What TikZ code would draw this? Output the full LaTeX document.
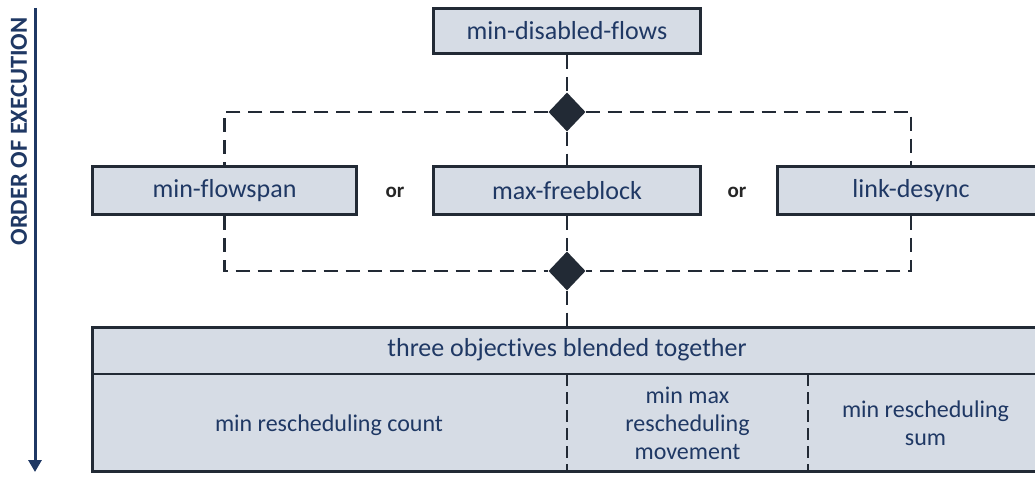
\documentclass[tikz,border=0pt]{standalone}
\usepackage{fontspec}
\setmainfont{Carlito}[Ligatures=NoCommon]
\usetikzlibrary{arrows.meta,shapes.geometric}
\definecolor{boxfill}{HTML}{D6DCE5}
\definecolor{edge}{HTML}{222A35}
\definecolor{ink}{HTML}{1F3864}
\definecolor{orgray}{HTML}{262626}
\begin{document}
\begin{tikzpicture}[x=1pt,y=-1pt,
  stagebox/.style={draw=edge, line width=3pt, fill=boxfill, text=ink, inner sep=0pt,
    minimum height=48pt, font=\fontsize{26}{30}\selectfont},
  flow/.style={draw=edge, line width=2.5pt, dash pattern=on 14pt off 8pt},
  gate/.style={diamond, fill=edge, draw=none, inner sep=0pt,
    minimum width=37pt, minimum height=39pt},
  orlabel/.style={text=orgray, font=\fontsize{21}{24}\selectfont\bfseries},
  celltext/.style={text=ink, align=center, inner sep=0pt,
    font=\fontsize{24}{28}\selectfont},
  celldiv/.style={draw=edge, line width=2.5pt, dash pattern=on 12pt off 6pt}]

\clip (0,0) rectangle (1035,478);

% execution-order arrow with its caption
\coordinate (arrowtop) at (35,8);
\coordinate (arrowend) at (35,472);
\draw[ink, line width=3pt, -{Triangle[width=13pt,length=12pt]}] (arrowtop) -- (arrowend);
\node[rotate=90, text=ink, inner sep=0pt, font=\fontsize{24.5}{28}\selectfont\bfseries]
  (ordercap) at (19,131.5) {ORDER OF EXECUTION};

% first stage
\node[stagebox, minimum width=267pt, minimum height=45pt] (disabled) at (567,31) {min-disabled-flows};

% alternative second stages
\node[stagebox, minimum width=264pt] (flowspan)  at (224.5,190.5) {min-flowspan};
\node[stagebox, minimum width=267pt] (freeblock) at (567,190.5)   {max-freeblock};
\node[stagebox, minimum width=267pt] (desync)    at (911,190.5)   {link-desync};
\node[orlabel] (or1) at (395,192) {or};
\node[orlabel] (or2) at (737,192) {or};

% branching and joining gates
\node[gate] (split) at (567,112) {};
\node[gate] (merge) at (567,271) {};

% final blended stage (table)
\node[draw=edge, line width=3pt, fill=boxfill, inner sep=0pt,
  minimum width=949pt, minimum height=144pt] (blend) at (567,399.5) {};
\coordinate (divL) at (91,374);
\coordinate (divR) at (1043,374);
\draw[edge, line width=2pt] (divL) -- (divR);
\coordinate (sepAtop) at (567,374);
\coordinate (sepAbot) at (567,472);
\coordinate (sepBtop) at (808,374);
\coordinate (sepBbot) at (808,472);
\draw[celldiv] (sepAtop) -- (sepAbot);
\draw[celldiv] (sepBtop) -- (sepBbot);

\node[celltext, font=\fontsize{26}{30}\selectfont] (header) at (567,350) {three objectives blended together};
\node[celltext] (count)    at (329,425) {min rescheduling count};
\node[celltext] (movement) at (687.5,423.5) {min max\\rescheduling\\movement};
\node[celltext] (sum)      at (925.5,423.5) {min rescheduling\\sum};

% connectors
\draw[flow] (disabled.south) -- (split.north);
\draw[flow] (split.south) -- (freeblock.north);
\draw[flow] (split.west) -| (flowspan.north);
\draw[flow] (split.east) -| (desync.north);
\draw[flow] (freeblock.south) -- (merge.north);
\draw[flow] (flowspan.south) |- (merge.west);
\draw[flow] (desync.south) |- (merge.east);
\draw[flow] (merge.south) -- (blend.north);
\end{tikzpicture}
\end{document}
